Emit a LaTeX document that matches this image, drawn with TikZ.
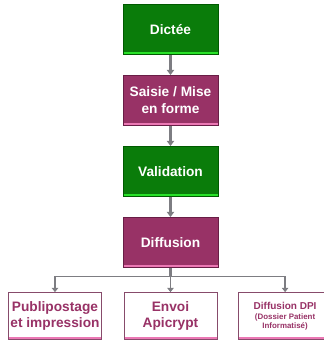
\documentclass[tikz,border=0pt]{standalone}
\usepackage{fontspec}
\setmainfont{Liberation Sans}
\usepackage{xcolor}
\usepackage{tikz}
\usetikzlibrary{shapes,arrows.meta,positioning}

\definecolor{stepgreen}{RGB}{10,124,10}
\definecolor{edgegreen}{RGB}{0,90,0}
\definecolor{lightgreen}{RGB}{40,225,40}
\definecolor{steppurple}{RGB}{152,50,102}
\definecolor{edgepurple}{RGB}{105,30,70}
\definecolor{lightpink}{RGB}{235,120,180}
\definecolor{arrowgray}{RGB}{125,125,130}

\begin{document}
\begin{tikzpicture}[node distance=2.367cm, auto,
    greenbox/.style={rectangle, draw=edgegreen, line width=0.8pt, fill=stepgreen, text=white, font=\bfseries\fontsize{13}{16}\selectfont, align=center, minimum width=3.17cm, minimum height=1.67cm,
        path picture={\fill[lightgreen] (path picture bounding box.south west) rectangle ([yshift=2.2pt]path picture bounding box.south east);}},
    purplebox/.style={greenbox, draw=edgepurple, fill=steppurple,
        path picture={\fill[lightpink] (path picture bounding box.south west) rectangle ([yshift=2.2pt]path picture bounding box.south east);}},
    whitebox/.style={rectangle, draw=edgepurple!80, line width=0.6pt, fill=white, text=steppurple, font=\bfseries\fontsize{13}{15}\selectfont, align=center, minimum width=3.1cm, minimum height=1.57cm, inner sep=1pt,
        path picture={\fill[lightpink] (path picture bounding box.south west) rectangle ([yshift=2pt]path picture bounding box.south east);}},
    arrow/.style={-{Triangle[width=7pt,length=5pt]}, line width=2.6pt, draw=arrowgray},
    link/.style={line width=2.4pt, draw=arrowgray},
    smallarrow/.style={-{Triangle[width=6pt,length=4pt]}, line width=1.4pt, draw=arrowgray}]

    \useasboundingbox (0,0) rectangle (10.8,-11.4);

    \node[greenbox] (dictee) at (5.683,-0.983) {Dictée};
    \node[purplebox, below of=dictee] (saisie) {Saisie / Mise\\en forme};
    \node[greenbox, below of=saisie] (validation) {Validation};
    \node[purplebox, below of=validation] (diffusion) {Diffusion};

    \node[whitebox, below of=diffusion, node distance=2.45cm] (envoi) {Envoi\\Apicrypt};
    \node[whitebox, left of=envoi, node distance=3.85cm] (publi) {Publipostage\\et impression};
    \node[whitebox, right of=envoi, node distance=3.82cm, font=\bfseries\fontsize{9.5}{11}\selectfont] (dpi) {Diffusion DPI\\[-1pt]{\fontsize{7.5}{9}\selectfont (Dossier Patient}\\[-3pt]{\fontsize{7.5}{9}\selectfont Informatisé)}};

    \draw[arrow] (dictee) -- (saisie);
    \draw[arrow] (saisie) -- (validation);
    \draw[arrow] (validation) -- (diffusion);

    \coordinate[below of=diffusion, node distance=1.133cm] (bus);
    \draw[link] (diffusion) -- (bus);
    \draw[smallarrow] (bus) -| (publi);
    \draw[smallarrow] (bus) -- (envoi);
    \draw[smallarrow] (bus) -| (dpi);

\end{tikzpicture}
\end{document}
